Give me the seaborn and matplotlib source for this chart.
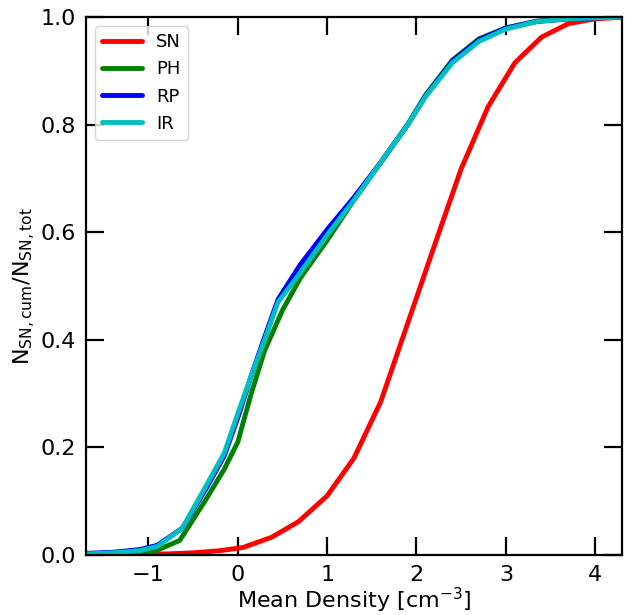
import numpy as np
import pandas as pd
import matplotlib
matplotlib.use("Agg")
import matplotlib.pyplot as plt
import seaborn as sns

# Cumulative supernova fractions vs. mean ambient density (log cm^-3)
sn_x = [-1.7, -1.4, -1.1, -0.8, -0.5, -0.2, 0.06, 0.38, 0.68, 1.0, 1.3,
        1.6, 1.9, 2.2, 2.5, 2.8, 3.1, 3.4, 3.7, 4.0, 4.3]
sn_y = [0.0, 0.0, 0.001, 0.002, 0.004, 0.008, 0.014, 0.033, 0.062, 0.11, 0.18,
        0.285, 0.43, 0.575, 0.718, 0.833, 0.915, 0.963, 0.988, 0.997, 1.0]

ph_x = [-1.7, -1.4, -1.1, -0.9, -0.65, -0.35, -0.15, 0.0, 0.15, 0.3, 0.5,
        0.7, 1.0, 1.3, 1.6, 1.9, 2.1, 2.4, 2.7, 3.0, 3.35, 3.7, 4.0, 4.3]
ph_y = [0.001, 0.002, 0.005, 0.009, 0.027, 0.105, 0.16, 0.21, 0.3, 0.38, 0.455,
        0.515, 0.585, 0.66, 0.73, 0.80, 0.855, 0.92, 0.96, 0.98, 0.993, 0.997, 0.999, 1.0]

rp_x = [-1.7, -1.4, -1.1, -0.9, -0.62, -0.35, -0.15, 0.0, 0.15, 0.3, 0.45,
        0.7, 1.0, 1.3, 1.6, 1.9, 2.1, 2.4, 2.7, 3.0, 3.35, 3.7, 4.0, 4.3]
rp_y = [0.003, 0.005, 0.01, 0.018, 0.05, 0.125, 0.185, 0.255, 0.333, 0.405, 0.475,
        0.54, 0.605, 0.665, 0.73, 0.80, 0.853, 0.918, 0.958, 0.98, 0.992, 0.997, 0.999, 1.0]

ir_x = [-1.7, -1.4, -1.1, -0.9, -0.62, -0.35, -0.15, 0.0, 0.15, 0.3, 0.45,
        0.7, 1.0, 1.3, 1.6, 1.9, 2.1, 2.4, 2.7, 3.0, 3.35, 3.7, 4.0, 4.3]
ir_y = [0.002, 0.004, 0.008, 0.016, 0.05, 0.13, 0.19, 0.263, 0.333, 0.40, 0.47,
        0.525, 0.595, 0.66, 0.73, 0.80, 0.852, 0.915, 0.955, 0.978, 0.992, 0.997, 0.999, 1.0]

series = [("SN", sn_x, sn_y, "#ff0000"),
          ("PH", ph_x, ph_y, "#008000"),
          ("RP", rp_x, rp_y, "#0000ff"),
          ("IR", ir_x, ir_y, "#00bfbf")]

sns.set_style("ticks")
plt.rcParams["font.family"] = ["DejaVu Sans"]
plt.rcParams.update({"text.color": "black", "axes.labelcolor": "black",
                     "xtick.color": "black", "ytick.color": "black",
                     "axes.edgecolor": "black"})

fig = plt.figure(figsize=(6.27, 6.15), dpi=100)
ax = fig.add_axes([0.137, 0.0976, 0.855, 0.8744])

for name, xs, ys, col in series:
    df = pd.DataFrame({"x": xs, "y": ys})
    sns.lineplot(data=df, x="x", y="y", ax=ax, color=col, linewidth=3.5,
                 label=name, sort=False, estimator=None)

ax.set_xlim(-1.7, 4.3)
ax.set_ylim(0.0, 1.0)
ax.set_xticks([-1, 0, 1, 2, 3, 4])
ax.set_yticks([0.0, 0.2, 0.4, 0.6, 0.8, 1.0])

for side in ["top", "right", "bottom", "left"]:
    ax.spines[side].set_visible(True)
    ax.spines[side].set_linewidth(1.6)
    ax.spines[side].set_color("black")

ax.tick_params(axis="both", which="major", direction="in", length=13, width=1.6,
               top=True, right=True, labelsize=16, pad=7, color="black",
               labelcolor="black")

ax.set_xlabel(r"Mean Density [cm$^{-3}$]", fontsize=16, labelpad=1)
ax.set_ylabel(r"$\mathrm{N_{SN,cum}/N_{SN,tot}}$", fontsize=16, labelpad=2)

ax.legend(loc="upper left", fontsize=13, handlelength=2.2, frameon=True)

fig.savefig("out.png", dpi=100)
